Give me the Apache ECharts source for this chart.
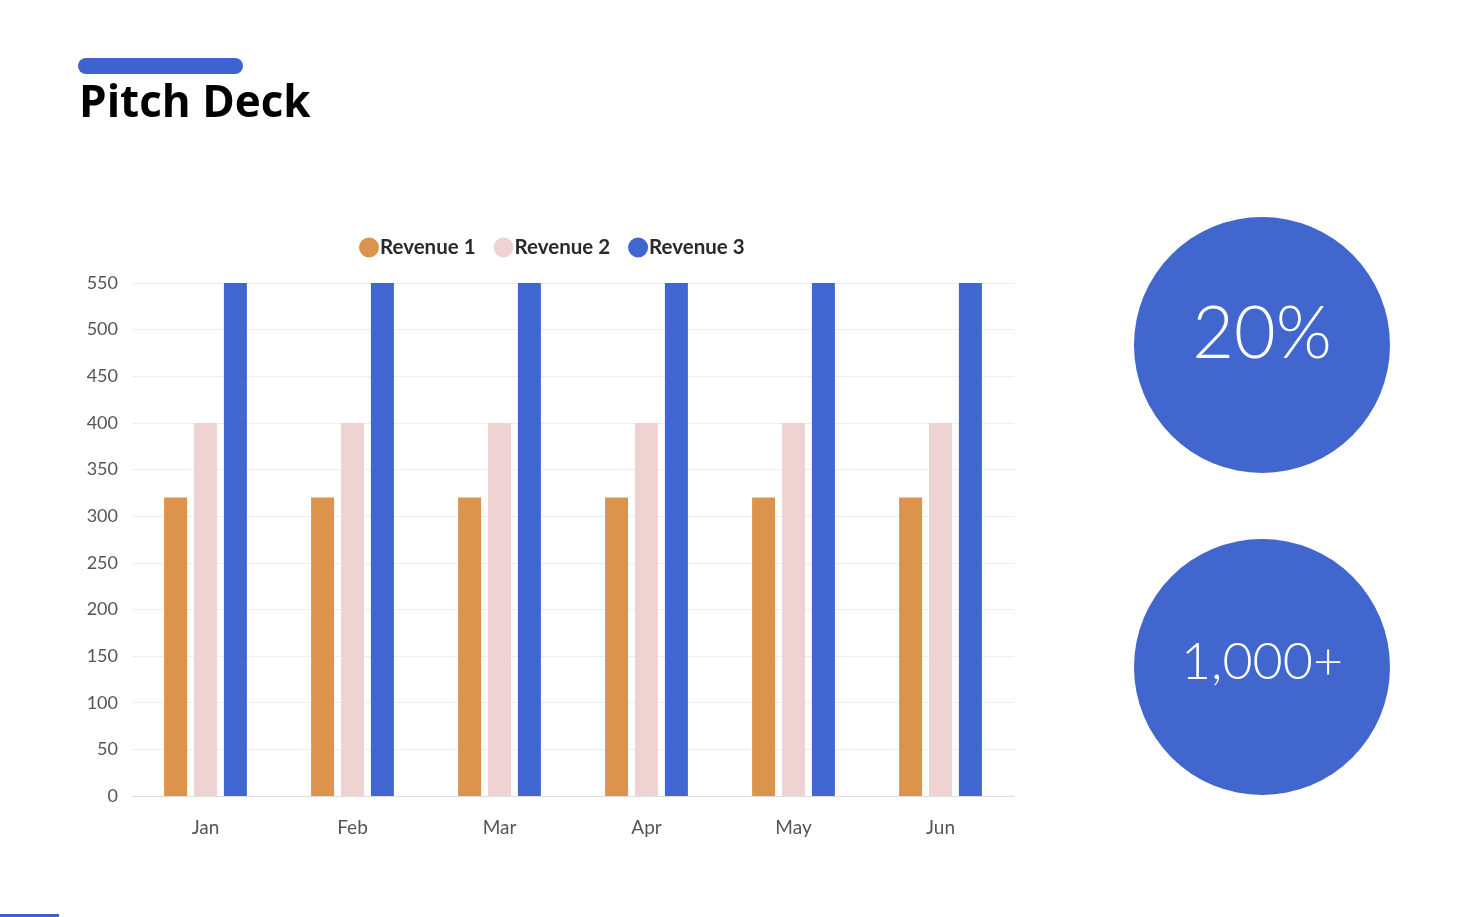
<!DOCTYPE html>
<html><head><meta charset="utf-8">
<script src="https://cdn.jsdelivr.net/npm/echarts@6/dist/echarts.min.js"></script>
<style>html,body{margin:0;padding:0;background:#fff}#c{width:1467px;height:917px}</style>
</head><body><div id="c"></div>
<script>
const categories = ['Jan','Feb','Mar','Apr','May','Jun'];
const revenue1 = [320,320,320,320,320,320];
const revenue2 = [400,400,400,400,400,400];
const revenue3 = [550,550,550,550,550,550];
const seriesNames = ['Revenue 1','Revenue 2','Revenue 3'];
const statTexts = ['20%','1,000+'];
const colors = ['#dc944c','#efd3d3','#4067d1'];
const chart = echarts.init(document.getElementById('c'));
const mkBar = (name, data, color) => ({
  name, type:'bar', data, barWidth:23, barGap:'30%',
  itemStyle:{color}
});
chart.setOption({
  animation:false,
  textStyle:{fontFamily:'Lato'},
  legend:{
    top:232, left:354, icon:'circle', itemWidth:20, itemHeight:20, itemGap:18,
    textStyle:{fontSize:20.5, fontWeight:'bold', color:'#2a2a2a', fontFamily:'Lato', padding:[0,0,0,-4]},
    data:seriesNames
  },
  grid:{left:132, right:453, top:283, bottom:121, containLabel:false},
  xAxis:{
    type:'category', data:categories,
    axisLine:{lineStyle:{color:'#dddddd'}}, axisTick:{show:false},
    axisLabel:{color:'#555', fontSize:19, margin:22, fontFamily:'Lato'}
  },
  yAxis:{
    type:'value', min:0, max:550, interval:50,
    axisLine:{show:false}, axisTick:{show:false},
    splitLine:{lineStyle:{color:'#eeeeee'}},
    axisLabel:{color:'#555', fontSize:18, margin:14, fontFamily:'Lato'}
  },
  series:[
    mkBar(seriesNames[0], revenue1, colors[0]),
    mkBar(seriesNames[1], revenue2, colors[1]),
    mkBar(seriesNames[2], revenue3, colors[2])
  ],
  graphic:[
    {type:'rect', shape:{x:78,y:58,width:165,height:16,r:8}, style:{fill:'#3d63d0'}},
    {type:'text', left:79, top:82, style:{text:'Pitch Deck', fill:'#000', font:'bold 44px "Open Sans"'}},
    {type:'circle', shape:{cx:1262, cy:345, r:128}, style:{fill:'#4166cd'}},
    {type:'circle', shape:{cx:1262, cy:667, r:128}, style:{fill:'#4166cd'}},
    {type:'text', x:1262, y:335, style:{text:statTexts[0], fill:'#fff', font:'300 72px Lato', align:'center', verticalAlign:'middle'}},
    {type:'text', x:1262, y:662, style:{text:statTexts[1], fill:'#fff', font:'300 52px Lato', align:'center', verticalAlign:'middle'}},
    {type:'rect', shape:{x:0,y:914,width:59,height:3}, style:{fill:'#3d63d0'}}
  ]
});
</script></body></html>
